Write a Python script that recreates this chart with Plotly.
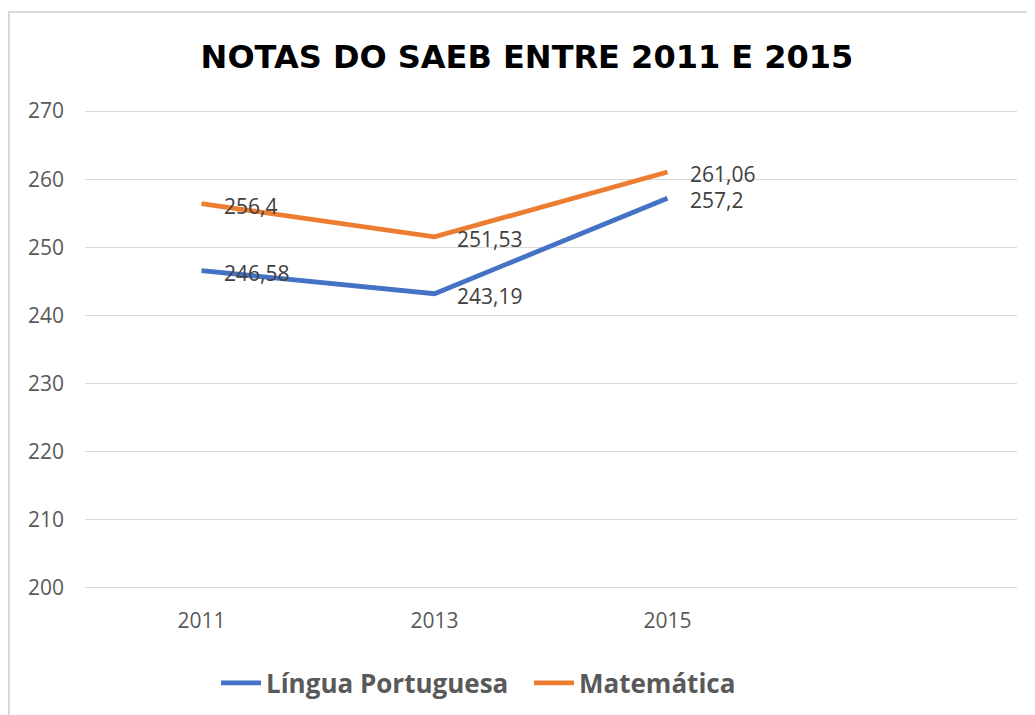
import plotly.graph_objects as go

years = ["2011", "2013", "2015"]
lingua_portuguesa = [246.58, 243.19, 257.2]
matematica = [256.4, 251.53, 261.06]
lp_labels = ["246,58", "243,19", "257,2"]
mat_labels = ["256,4", "251,53", "261,06"]
y_ticks = [200, 210, 220, 230, 240, 250, 260, 270]

xs = list(range(len(years)))

# page body has an 8px margin; layout is positioned to compensate
L, T, PW, PH = 77, 102, 932, 479
W, H = 1035, 715

fig = go.Figure()
fig.add_trace(go.Scatter(x=xs, y=lingua_portuguesa, mode="lines", name="Língua Portuguesa",
                         line=dict(color="#4472C4", width=4.8)))
fig.add_trace(go.Scatter(x=xs, y=matematica, mode="lines", name="Matemática",
                         line=dict(color="#ED7D31", width=4.8)))

annotations = []
for xv, yv, t in zip(xs, lingua_portuguesa, lp_labels):
    annotations.append(dict(x=xv, y=yv, text=t, showarrow=False, xanchor="left", yanchor="middle",
                            xshift=20, yshift=-2, font=dict(family="Open Sans", size=21, color="#404040")))
for xv, yv, t in zip(xs, matematica, mat_labels):
    annotations.append(dict(x=xv, y=yv, text=t, showarrow=False, xanchor="left", yanchor="middle",
                            xshift=20, yshift=-2, font=dict(family="Open Sans", size=21, color="#404040")))

fig.update_layout(
    width=W, height=H,
    margin=dict(l=L, r=W - L - PW, t=T, b=H - T - PH),
    paper_bgcolor="white", plot_bgcolor="white",
    title=dict(text="NOTAS DO SAEB ENTRE 2011 E 2015", x=(519 - 0) / W, xanchor="center", y=(H - 49) / H, yanchor="middle",
               font=dict(family="DejaVu Sans", size=32, color="black", weight="bold")),
    xaxis=dict(range=[-0.5, 3.5], tickvals=xs, ticktext=years, showgrid=False, zeroline=False,
               showline=False, ticks="", ticklabelstandoff=17,
               tickfont=dict(family="Open Sans", size=21, color="#595959")),
    yaxis=dict(range=[199.85, 270.15], tickvals=y_ticks, showgrid=True, gridcolor="#D9D9D9", gridwidth=1.3,
               zeroline=False, showline=False, ticks="", ticklabelstandoff=20,
               tickfont=dict(family="Open Sans", size=21, color="#595959")),
    legend=dict(orientation="h", x=(208 - L) / PW, xanchor="left", y=(T + PH - 675) / PH,
                yanchor="middle", entrywidth=258, entrywidthmode="pixels",
                font=dict(family="Open Sans", size=26, color="#595959", weight="bold"),
                itemwidth=40, bgcolor="rgba(0,0,0,0)"),
    annotations=annotations,
    shapes=[dict(type="rect", xref="paper", yref="paper",
                 x0=(1 - L) / PW, x1=(W + 20 - L) / PW,
                 y0=(T + PH - (H + 20)) / PH, y1=(T + PH - 4) / PH,
                 line=dict(color="#D9D9D9", width=2), fillcolor="rgba(0,0,0,0)", layer="below")],
)

fig.write_html("out.html")
